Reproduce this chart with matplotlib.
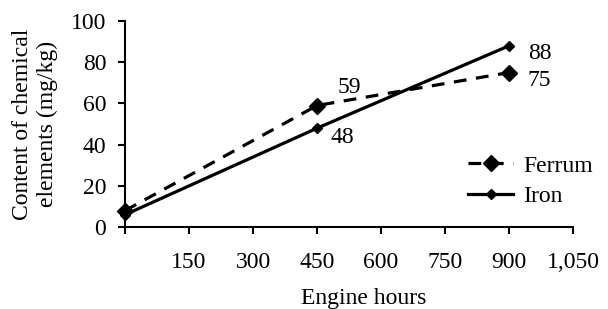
import matplotlib.pyplot as plt

hours = [0, 450, 900]
ferrum = [8, 59, 75]
iron = [6, 48, 88]
xticks = [150, 300, 450, 600, 750, 900, 1050]
xtick_labels = ["150", "300", "450", "600", "750", "900", "1,050"]

plt.rcParams["font.family"] = "Liberation Serif"
plt.rcParams["font.size"] = 17

fig = plt.figure(figsize=(6.08, 3.09), dpi=100)
ax = fig.add_axes([0.2056, 0.265, 0.737, 0.667])

ax.plot(hours, ferrum, color="black", linestyle=(0, (4, 3)), linewidth=2.3,
        marker="D", markersize=8, label="Ferrum", clip_on=False)
ax.plot(hours, iron, color="black", linestyle="-", linewidth=2.3,
        marker="D", markersize=5.5, label="Iron", clip_on=False)

# value labels next to the points
ax.annotate(str(ferrum[1]), (hours[1], ferrum[1]), xytext=(14.5, 13),
            textcoords="offset points", va="center")
ax.annotate(str(iron[1]), (hours[1], iron[1]), xytext=(10, -7),
            textcoords="offset points", va="center")
ax.annotate(str(iron[2]), (hours[2], iron[2]), xytext=(13.5, -5.5),
            textcoords="offset points", va="center")
ax.annotate(str(ferrum[2]), (hours[2], ferrum[2]), xytext=(13.5, -5.5),
            textcoords="offset points", va="center")

ax.set_xlim(0, 1050)
ax.set_ylim(0, 100)
ax.set_xticks([0] + xticks)
ax.set_xticklabels([""] + xtick_labels)
ax.set_yticks(range(0, 101, 20))

for s in ["top", "right"]:
    ax.spines[s].set_visible(False)
for s in ["left", "bottom"]:
    ax.spines[s].set_linewidth(1.5)
ax.tick_params(axis="x", direction="out", length=5, width=1.5, pad=13)
ax.tick_params(axis="y", direction="out", length=5, width=1.5, pad=8.5)

ax.set_xlabel("Engine hours")
ax.xaxis.set_label_coords(0.533, -0.295)
ax.set_ylabel("Content of chemical\nelements (mg/kg)")
ax.yaxis.set_label_coords(-0.15, 0.5)

ax.legend(loc="upper left", bbox_to_anchor=(0.766, 0.35), frameon=False,
          borderpad=0, borderaxespad=0, handlelength=1.9, handletextpad=0.42,
          labelspacing=0.38)

fig.savefig("out.png", dpi=100)
